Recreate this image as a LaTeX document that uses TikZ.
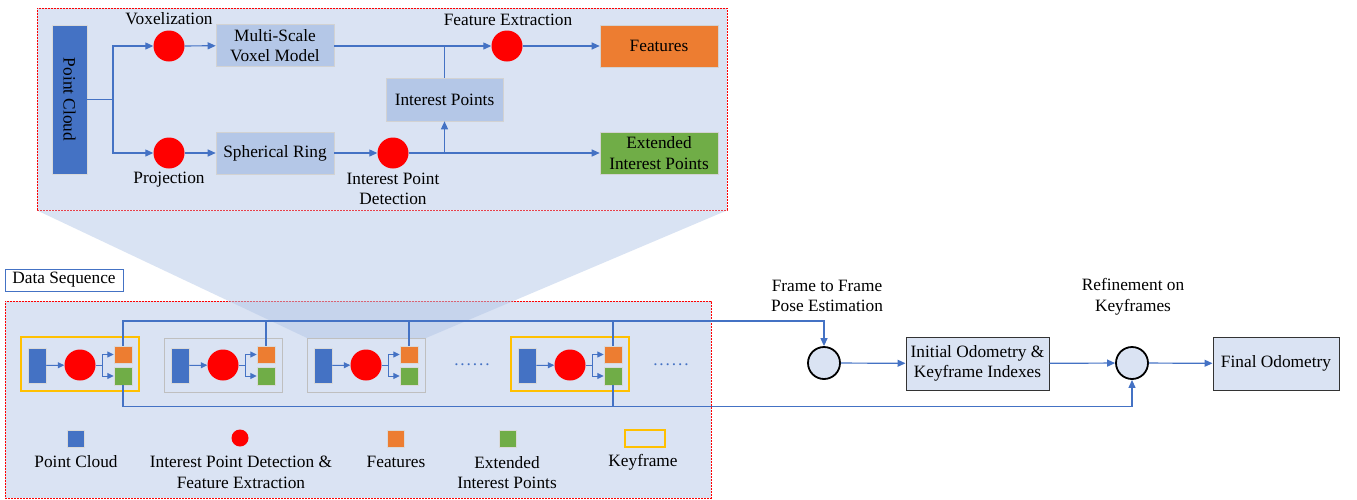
\documentclass[tikz,border=0pt]{standalone}
\usepackage{fontspec}
\setmainfont{Liberation Serif}
\usetikzlibrary{arrows.meta}
\definecolor{bgblue}{HTML}{DAE3F3}
\definecolor{boxblue}{HTML}{B4C7E7}
\definecolor{pcblue}{HTML}{4472C4}
\definecolor{lineblue}{HTML}{4472C4}
\definecolor{orangefill}{HTML}{ED7D31}
\definecolor{greenfill}{HTML}{70AD47}
\definecolor{kfyellow}{HTML}{FFC000}
\definecolor{framegray}{HTML}{BFBFBF}
\newcommand\fs{\fontsize{17.3}{20.5}\selectfont}
\newcommand\dotrow{.\kern1.9pt.\kern1.9pt.\kern1.9pt.\kern1.9pt.\kern1.9pt.}
\tikzset{
  txt/.style={font=\fs, inner sep=1pt, align=center},
  flow/.style={draw=gray!35, fill=boxblue, line width=0.6pt, minimum width=118pt, minimum height=42pt, inner sep=1pt, font=\fs, align=center},
  redc/.style={circle, fill=red, draw=none, minimum size=31pt, inner sep=0pt},
  conn/.style={draw=lineblue, line width=1.2pt},
  arr/.style={conn, -{Triangle[length=8pt,width=7pt]}},
  sarr/.style={draw=lineblue, line width=1pt, -{Triangle[length=6.5pt,width=6pt]}},
  regionbox/.style={draw=red, dash pattern=on 2pt off 1pt, fill=bgblue, line width=0.8pt, inner sep=0pt},
  barbox/.style={fill=pcblue, draw=gray!30, line width=0.5pt, inner sep=0pt},
  sqbox/.style={draw=gray!30, line width=0.5pt, inner sep=0pt, minimum width=18pt, minimum height=17.5pt},
  rc/.style={circle, draw=black, line width=1.8pt, fill=bgblue, minimum size=32pt, inner sep=0pt},
  obox/.style={fill=bgblue, draw=black!80, line width=1pt, minimum height=53pt, inner sep=1pt, font=\fs, align=center},
  keyframe/.style={draw=kfyellow, line width=1.6pt, fill=bgblue, minimum width=118pt, minimum height=54pt, inner sep=0pt},
  plainframe/.style={draw=framegray, line width=0.9pt, fill=bgblue, minimum width=118pt, minimum height=54pt, inner sep=0pt},
}
\begin{document}
\begin{tikzpicture}[x=1pt,y=-1pt]
\useasboundingbox (0,0) rectangle (1357,499);

% ---------- region boxes ----------
\node[regionbox, minimum width=706pt, minimum height=197pt] (seq) at (358,399.5) {};
\node[regionbox, minimum width=690pt, minimum height=202pt] (inset) at (382,109) {};
\fill[boxblue, opacity=0.5] (37,210.4) -- (727,210.4) -- (426,338) -- (307,338) -- cycle;

% ---------- inset (top) ----------
\node[barbox, minimum width=35pt, minimum height=149pt] (pc) at (69.5,99.5) {};
\node[txt, rotate=-90] (pclabel) at (pc) {Point Cloud};
\coordinate (j1) at (113,99.5);
\node[redc] (vox) at (169,46) {};
\node[redc] (proj) at (169,153) {};
\node[flow] (msvm) at (275,45.5) {Multi-Scale\\Voxel Model};
\node[flow] (sr) at (275,153) {Spherical Ring};
\node[redc] (fe) at (507,46) {};
\node[redc] (ipd) at (393,153) {};
\node[flow, minimum width=117pt, minimum height=43pt] (ip) at (444.5,99.5) {Interest Points};
\node[flow, fill=orangefill] (feat) at (659,46) {Features};
\node[flow, fill=greenfill] (eip) at (659,153) {Extended\\Interest Points};

\node[txt] (lvox) at (169,19) {Voxelization};
\node[txt] (lproj) at (169,180) {Projection};
\node[txt] (lfe) at (508,20) {Feature Extraction};
\node[txt] (lipd) at (393,189) {Interest Point\\Detection};

\draw[conn] (pc.east |- j1) -- (j1);
\draw[arr] (j1) |- (vox);
\draw[arr] (j1) |- (proj);
\draw[arr] (vox) -- (msvm);
\draw[arr] (proj) -- (sr);
\draw[arr] (msvm.east |- fe) -- (fe);
\draw[arr] (sr) -- (ipd);
\draw[arr] (ipd) -- (eip);
\draw[arr] (fe) -- (feat);
\draw[conn] (ip.north) -- (ip.north |- fe);
\draw[arr] (ip.south |- ipd) -- (ip.south);

% ---------- data sequence ----------
\node[draw=lineblue, line width=0.8pt, minimum width=118pt, minimum height=22pt, inner sep=0pt, font=\fs] (ds) at (64,280) {Data Sequence};

\node[keyframe] (f1) at (80,364) {};
\node[plainframe] (f2) at (223.5,365) {};
\node[plainframe] (f3) at (366.5,365) {};
\node[keyframe] (f4) at (570,364) {};

\foreach \i/\x in {1/21, 2/164, 3/307, 4/511} {
  \node[barbox, minimum width=18pt, minimum height=35pt] (b\i) at (\x+16,365.5) {};
  \node[redc] (c\i) at (\x+59,365) {};
  \node[sqbox, fill=orangefill] (o\i) at (\x+102,354.5) {};
  \node[sqbox, fill=greenfill] (g\i) at (\x+102,376) {};
  \coordinate (br\i) at (\x+81,365);
  \draw[sarr] (b\i) -- (c\i);
  \draw[draw=lineblue, line width=1pt] (c\i) -- (br\i);
  \draw[sarr] (br\i) |- (o\i);
  \draw[sarr] (br\i) |- (g\i);
}
\node[text=lineblue, font=\fs, inner sep=0pt] (dots1) at (472,365) {\dotrow};
\node[text=lineblue, font=\fs, inner sep=0pt] (dots2) at (671,365) {\dotrow};

% ---------- right side ----------
\node[rc] (ff) at (824,363) {};
\node[obox, minimum width=143pt] (io) at (977.5,363.5) {Initial Odometry \&\\Keyframe Indexes};
\node[rc] (rk) at (1132,363) {};
\node[obox, minimum width=126pt] (fo) at (1276,363.5) {Final Odometry};
\node[txt] (lff) at (827,296) {Frame to Frame\\Pose Estimation};
\node[txt] (lrk) at (1133,297) {Refinement on\\Keyframes};
\draw[arr] (ff) -- (io);
\draw[arr] (io) -- (rk);
\draw[arr] (rk) -- (fo);

\coordinate (tl) at (0,321);
\coordinate (bl) at (0,406.5);
\draw[arr] (o1.north) -- (o1.north |- tl) -| (ff.north);
\foreach \i in {2,3,4} \draw[conn] (o\i.north) -- (o\i.north |- tl);
\draw[arr] (g1.south) -- (g1.south |- bl) -| (rk.south);
\draw[conn] (g4.south) -- (g4.south |- bl);

% ---------- legend ----------
\node[sqbox, fill=pcblue, minimum width=17pt, minimum height=17pt] (lpc) at (75.5,438.5) {};
\node[circle, fill=red, minimum size=17pt, inner sep=0pt] (lred) at (240,438) {};
\node[sqbox, fill=orangefill, minimum width=17pt, minimum height=17pt] (lor) at (396,438.5) {};
\node[sqbox, fill=greenfill, minimum width=17pt, minimum height=17pt] (lgr) at (508,438.5) {};
\node[draw=kfyellow, line width=1.4pt, minimum width=40pt, minimum height=17pt, inner sep=0pt] (lkf) at (645,438.5) {};
\node[txt] (tpc) at (76,462) {Point Cloud};
\node[txt] (tred) at (241,472.5) {Interest Point Detection \&\\Feature Extraction};
\node[txt] (tor) at (396,462) {Features};
\node[txt] (tgr) at (507,472.5) {Extended\\Interest Points};
\node[txt] (tkf) at (643,462) {Keyframe};
\end{tikzpicture}
\end{document}
